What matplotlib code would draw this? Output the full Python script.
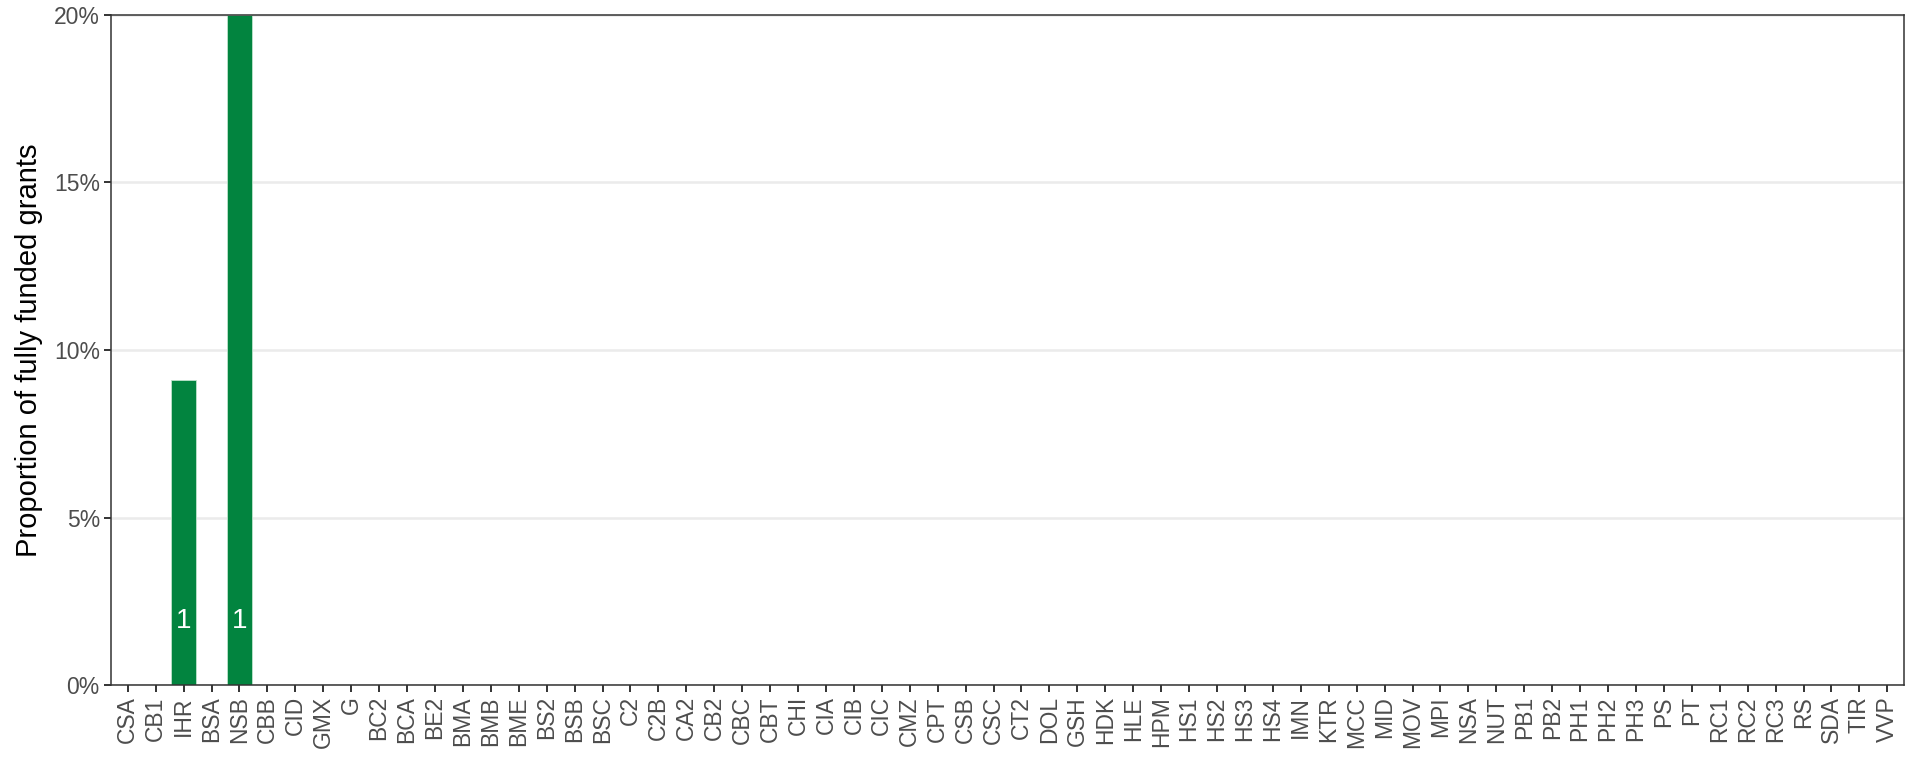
import matplotlib
matplotlib.use("Agg")
import matplotlib.pyplot as plt
import numpy as np
from matplotlib.ticker import FuncFormatter

# Grant programme codes, in the order shown on the axis
categories = [
    "CSA", "CB1", "IHR", "BSA", "NSB", "CBB", "CID", "GMX", "G", "BC2",
    "BCA", "BE2", "BMA", "BMB", "BME", "BS2", "BSB", "BSC", "C2", "C2B",
    "CA2", "CB2", "CBC", "CBT", "CHI", "CIA", "CIB", "CIC", "CMZ", "CPT",
    "CSB", "CSC", "CT2", "DOL", "GSH", "HDK", "HLE", "HPM", "HS1", "HS2",
    "HS3", "HS4", "IMN", "KTR", "MCC", "MID", "MOV", "MPI", "NSA", "NUT",
    "PB1", "PB2", "PH1", "PH2", "PH3", "PS", "PT", "RC1", "RC2", "RC3",
    "RS", "SDA", "TIR", "VVP",
]

# proportion of fully funded grants (0 where no bar is drawn)
proportions = [0.0] * len(categories)
proportions[categories.index("IHR")] = 1 / 11
proportions[categories.index("NSB")] = 1 / 5

# number of fully funded grants, shown inside the bars
counts = [0] * len(categories)
counts[categories.index("IHR")] = 1
counts[categories.index("NSB")] = 1

y_ticks = [0.0, 0.05, 0.10, 0.15, 0.20]

BAR_COLOR = "#02843F"
TEXT_GREY = "#4D4D4D"

plt.rcParams["font.family"] = ["Liberation Sans", "DejaVu Sans"]

fig = plt.figure(figsize=(19.2, 7.68), dpi=100)
ax = fig.add_axes([0.0578, 0.108, 0.9339, 0.8725])

x = np.arange(len(categories))
ax.bar(x, proportions, width=0.9, color=BAR_COLOR, edgecolor="#BFE3CC",
       linewidth=0.6, zorder=2)

for xi, p, c in zip(x, proportions, counts):
    if c > 0:
        ax.text(xi, 0.019, str(c), ha="center", va="center",
                color="white", fontsize=20, zorder=3)

ax.set_xlim(-0.6, len(categories) - 0.4)
ax.set_ylim(0, 0.20)
ax.set_xticks(x)
ax.set_xticklabels(categories, rotation=90, fontsize=16.5, color=TEXT_GREY)
ax.set_yticks(y_ticks)
ax.yaxis.set_major_formatter(FuncFormatter(lambda v, _: f"{v * 100:.0f}%"))
ax.tick_params(axis="y", labelsize=16.5, labelcolor=TEXT_GREY)
ax.tick_params(axis="both", length=5, width=1.4, color="#333333", pad=3)

ax.grid(axis="y", color="#EBEBEB", linewidth=1.8, zorder=0)
ax.set_axisbelow(True)
for spine in ax.spines.values():
    spine.set_color("#333333")
    spine.set_linewidth(1.1)

ax.set_ylabel("Proportion of fully funded grants", fontsize=21, color="black",
              labelpad=8)

fig.savefig("out.png", dpi=100)
